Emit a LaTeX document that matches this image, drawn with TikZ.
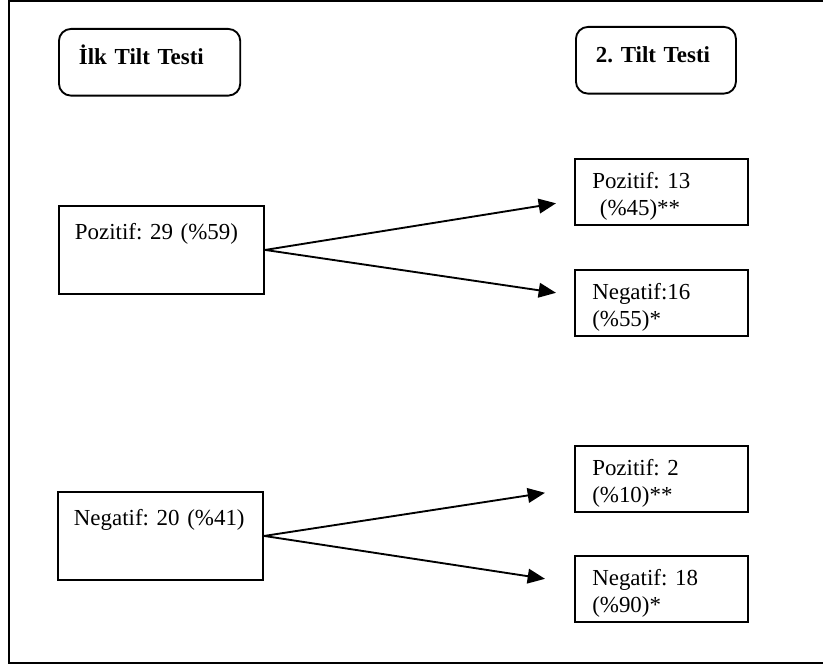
\documentclass[tikz,border=0pt]{standalone}
\usepackage{fontspec}
\setmainfont{Liberation Serif}
\usepackage{tikz}
\usetikzlibrary{arrows.meta, calc}
\tikzset{
  box/.style       = {draw=black, line width=1.4pt, rectangle, anchor=north west, align=left,
                      inner xsep=13pt, font=\fontsize{17.2}{20}\selectfont\frenchspacing},
  boxhead/.style   = {box, rounded corners=9pt, inner xsep=15pt, inner ysep=0pt,
                      text height=27pt, text depth=23pt, font=\fontsize{17.2}{20}\selectfont\frenchspacing\bfseries},
  boxfirst/.style  = {box, inner xsep=12pt, inner ysep=0pt, text width=130pt, text height=25.5pt, text depth=40.5pt},
  boxsecond/.style = {box, inner ysep=0pt, text width=103.6pt, text height=22.5pt, text depth=26.8pt},
  flow/.style      = {-{Triangle[length=13pt, width=11pt]}, draw=black, line width=1.4pt},
  frame/.style     = {draw=black, line width=0.9pt},
}
\begin{document}
\begin{tikzpicture}[x=0.75pt, y=-0.75pt]
  \useasboundingbox (0,0) rectangle (823,667);
  \draw[frame] (823,1) -- (9,1) -- (9,663) -- (823,663);

  \node[boxhead, text width=106pt] (first) at (58,28) {İlk Tilt Testi};
  \node[boxhead, text width=90pt] (second) at (575,26) {2. Tilt Testi};

  \node[boxfirst] (pos) at (58,205) {Pozitif: 29 (\%59)};
  \node[boxfirst] (neg) at (57,491) {Negatif: 20 (\%41)};

  \node[boxsecond] (pospos) at (574,158) {Pozitif: 13\\\ (\%45)**};
  \node[boxsecond] (posneg) at (574,269) {Negatif:16\\(\%55)*};
  \node[boxsecond] (negpos) at (574,445) {Pozitif: 2\\(\%10)**};
  \node[boxsecond] (negneg) at (574,555) {Negatif: 18\\(\%90)*};

  \draw[flow] (pos.east) -- ($(pospos.west)+(-18,11.5)$);
  \draw[flow] (pos.east) -- ($(posneg.west)+(-18,-10)$);
  \draw[flow] (neg.east) -- ($(negpos.west)+(-29,14)$);
  \draw[flow] (neg.east) -- ($(negneg.west)+(-29,-10)$);
\end{tikzpicture}
\end{document}
